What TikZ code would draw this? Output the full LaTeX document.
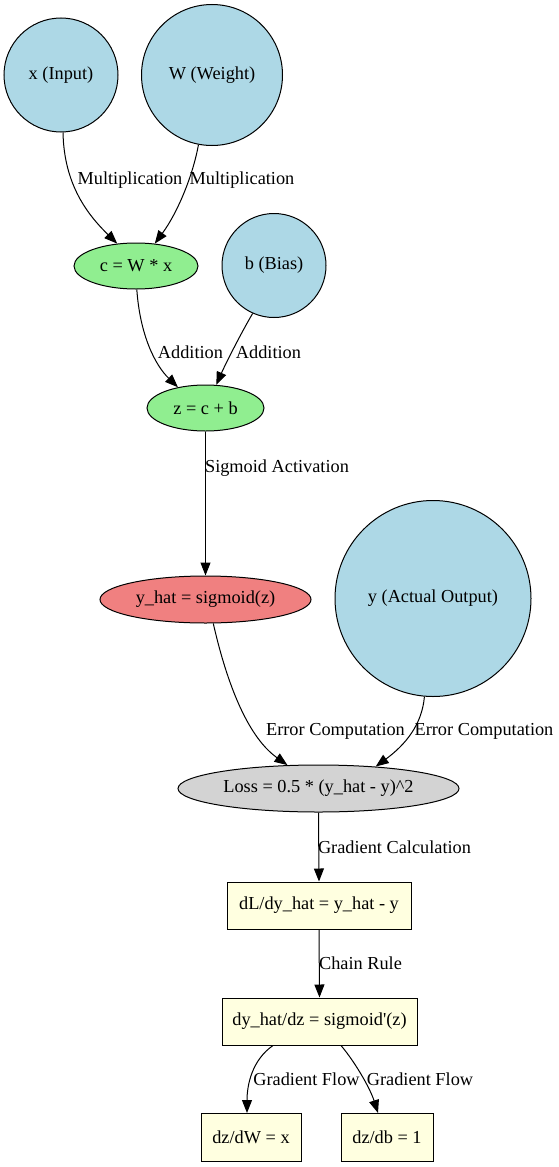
\documentclass[tikz,border=0pt]{standalone}
\usepackage{fontspec}
\setmainfont{Liberation Serif}
\usetikzlibrary{shapes.geometric,arrows.meta}
\definecolor{lblue}{HTML}{ADD8E6}
\definecolor{lgreen}{HTML}{90EE90}
\definecolor{lcoral}{HTML}{F08080}
\definecolor{lgray}{HTML}{D3D3D3}
\definecolor{lyellow}{HTML}{FFFFE0}
\tikzset{
  base/.style={draw=black, line width=1pt, inner sep=0pt, font=\fontsize{18.3}{21}\selectfont},
  circ/.style={base, circle, fill=lblue, minimum size=#1},
  ell/.style={base, ellipse, minimum height=46pt},
  boxn/.style={base, rectangle, fill=lyellow, minimum height=47pt},
  lab/.style={inner sep=0pt, font=\fontsize{18.3}{21}\selectfont},
  edge/.style={line width=1pt, -{Triangle[length=13pt,width=10pt]}}
}
\begin{document}
\begin{tikzpicture}[x=1pt,y=-1pt]
\useasboundingbox (0,0) rectangle (559,1167);
% nodes
\node[circ=114pt] (x) at (61,75) {x (Input)};
\node[circ=141pt] (W) at (212,75) {W (Weight)};
\node[ell, fill=lgreen, minimum width=124pt] (c) at (136,266) {c = W * x};
\node[circ=104pt] (b) at (274,265.5) {b (Bias)};
\node[ell, fill=lgreen, minimum width=117pt] (z) at (205.5,408) {z = c + b};
\node[ell, fill=lcoral, minimum width=211pt, minimum height=47pt] (yhat) at (205.5,599.5) {y\_hat = sigmoid(z)};
\node[circ=196pt] (y) at (433,598.5) {y (Actual Output)};
\node[ell, fill=lgray, minimum width=281pt, minimum height=47pt] (loss) at (318.5,788.5) {Loss = 0.5 * (y\_hat - y)\textasciicircum 2};
\node[boxn, minimum width=184pt] (dL) at (319,905.5) {dL/dy\_hat = y\_hat - y};
\node[boxn, minimum width=195pt] (dy) at (319.5,1021.5) {dy\_hat/dz = sigmoid\textquotesingle(z)};
\node[boxn, minimum width=100pt, minimum height=48pt] (dzdW) at (251,1137.5) {dz/dW = x};
\node[boxn, minimum width=92pt, minimum height=48pt] (dzdb) at (387,1137.5) {dz/db = 1};
% edges
\draw[edge] (x.-88) .. controls (64,185) and (88,215) .. (c.130);
\draw[edge] (W.-101) .. controls (193,175) and (178,212) .. (c.50);
\draw[edge] (c.-88) .. controls (140,335) and (155,365) .. (z.143);
\draw[edge] (b.-114) .. controls (240,335) and (225,365) .. (z.65);
\draw[edge] (z.south) -- (yhat.north);
\draw[edge] (yhat.-72) .. controls (225,675) and (245,735) .. (loss.143);
\draw[edge] (y.-95) .. controls (422,725) and (405,745) .. (loss.21);
\draw[edge] (loss.south) -- (dL.north);
\draw[edge] (dL.south) -- (dy.north);
\draw[edge] ([xshift=-46.5pt]dy.south) .. controls (252,1060) and (247,1085) .. ([xshift=-4pt]dzdW.north);
\draw[edge] ([xshift=21.5pt]dy.south) .. controls (355,1062) and (370,1088) .. ([xshift=-9pt]dzdb.north);
% labels
\node[lab] (l1) at (130,180) {Multiplication};
\node[lab] (l2) at (242,180) {Multiplication};
\node[lab] (l3) at (190.5,352) {Addition};
\node[lab] (l4) at (268.5,352) {Addition};
\node[lab] (l5) at (277,468) {Sigmoid Activation};
\node[lab] (l6) at (335.5,731) {Error Computation};
\node[lab] (l7) at (484,731) {Error Computation};
\node[lab] (l8) at (394.5,847) {Gradient Calculation};
\node[lab] (l9) at (360.5,963) {Chain Rule};
\node[lab] (l10) at (306.5,1079) {Gradient Flow};
\node[lab] (l11) at (420,1079) {Gradient Flow};
\end{tikzpicture}
\end{document}
